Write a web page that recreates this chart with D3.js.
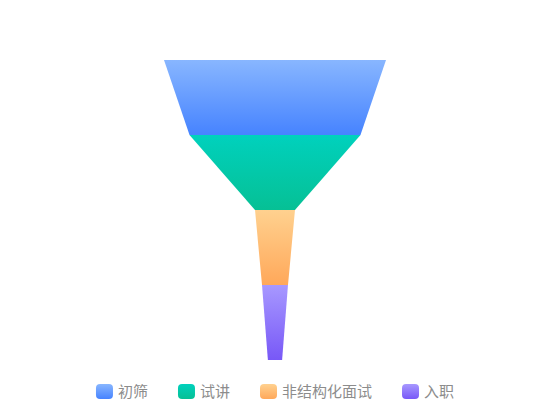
<!DOCTYPE html>
<html>
<head>
<meta charset="utf-8">
<script src="https://cdn.jsdelivr.net/npm/d3@7"></script>
<style>
	body { margin: 0; background: #fff; }
	svg { display: block; font-family: "Noto Sans CJK SC", "Noto Sans", sans-serif; }
</style>
</head>
<body>
<div id="chart"></div>
<script>
var stages = ["初筛", "试讲", "非结构化面试", "入职"];
var stageValues = [100, 77, 18, 11.7];
var tailValue = 6.4;
var gradTop = ["#88b6ff", "#00d1bd", "#ffd18f", "#a798ff"];
var gradBottom = ["#4683ff", "#06c095", "#ffa85a", "#7858f7"];

var width = 550;
var height = 420;
var cx = 275;

var svg = d3.select("#chart").append("svg")
		.attr("width", width).attr("height", height);

var defs = svg.append("defs");
stages.forEach(function(s, i) {
	var g = defs.append("linearGradient")
		.attr("id", "grad" + i)
		.attr("x1", 0).attr("y1", 0).attr("x2", 0).attr("y2", 1);
	g.append("stop").attr("offset", "0%").attr("stop-color", gradTop[i]);
	g.append("stop").attr("offset", "100%").attr("stop-color", gradBottom[i]);
});

var w = d3.scaleLinear().domain([0, 100]).range([0, 222]);
var y = d3.scaleBand().domain(stages).range([60, 360]).padding(0);

var edges = stageValues.concat([tailValue]);

svg.append("g").selectAll("path")
	.data(stages)
	.enter().append("path")
	.attr("d", function(d, i) {
		var top = w(edges[i]) / 2;
		var bot = w(edges[i + 1]) / 2;
		var y0 = y(d);
		var y1 = y0 + y.bandwidth();
		return "M" + (cx - top) + "," + y0 + "L" + (cx + top) + "," + y0 +
			"L" + (cx + bot) + "," + y1 + "L" + (cx - bot) + "," + y1 + "Z";
	})
	.attr("fill", function(d, i) { return "url(#grad" + i + ")"; });

// legend
var fontSize = 15;
var iconW = 17, iconH = 15, textGap = 5, itemGap = 30;
var legend = svg.append("g");
var items = legend.selectAll("g")
	.data(stages)
	.enter().append("g");

items.append("rect")
	.attr("width", iconW).attr("height", iconH)
	.attr("rx", 4).attr("ry", 4)
	.attr("fill", function(d, i) { return "url(#grad" + i + ")"; });

items.append("text")
	.attr("x", iconW + textGap)
	.attr("y", iconH / 2)
	.attr("dy", "0.36em")
	.attr("font-size", fontSize)
	.attr("fill", "#8c8c8c")
	.text(function(d) { return d; });

var xPos = 0;
items.each(function() {
	var g = d3.select(this);
	var tw = g.select("text").node().getComputedTextLength();
	g.attr("transform", "translate(" + xPos + ",0)");
	xPos += iconW + textGap + tw + itemGap;
});
var totalW = xPos - itemGap;
legend.attr("transform", "translate(" + (cx - totalW / 2) + ",384)");
</script>
</body>
</html>
